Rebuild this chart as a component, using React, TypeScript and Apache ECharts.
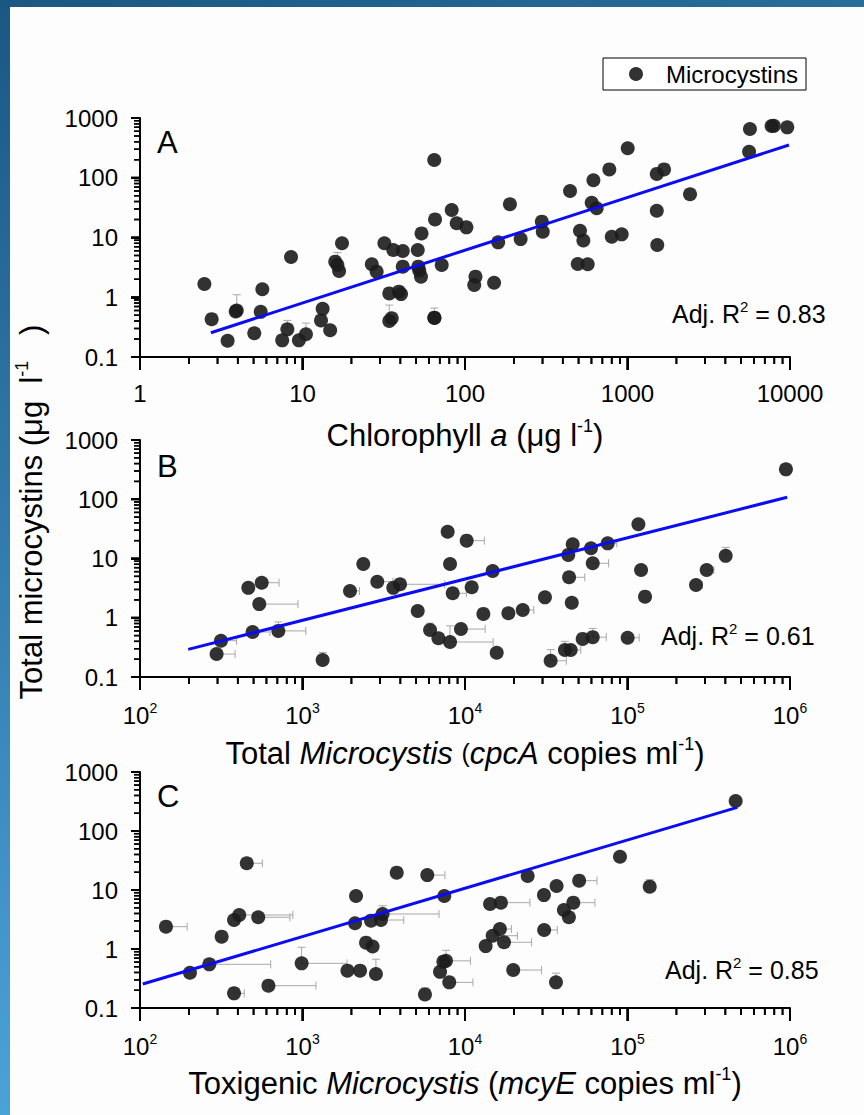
import React, { useEffect, useRef } from 'react';
import * as echarts from 'echarts';

const FONT = '"Liberation Sans", Arial, Helvetica, sans-serif';

// tick labels
const xLabelsA = ['1', '10', '100', '1000', '10000'];
const yLabels = ['0.1', '1', '10', '100', '1000'];
const xExpBC = ['2', '3', '4', '5', '6'];

// Panel A: chlorophyll a vs total microcystins
const pointsA: number[][] = [
  [2.49, 1.67], [2.76, 0.43], [3.46, 0.187], [3.94, 0.6], [3.88, 0.58], [5.05, 0.25], [5.53, 0.57], [5.66, 1.36],
  [7.5, 0.19], [8.07, 0.29], [8.5, 4.72], [9.5, 0.19], [10.5, 0.24], [13, 0.41], [13.3, 0.64], [14.8, 0.28],
  [15.9, 3.94], [16.4, 3.47], [16.8, 2.75], [17.5, 8.0], [26.7, 3.57], [28.6, 2.68], [31.9, 8.0], [34.2, 1.16],
  [35.4, 0.445], [34.2, 0.4], [36.2, 6.18], [39.2, 1.24], [40.4, 1.13], [41.4, 5.94], [41.4, 3.25], [51.2, 6.18],
  [51.6, 3.25], [52.3, 2.79], [53.6, 2.21], [54, 11.7], [64.7, 198], [65.4, 20.1], [64.7, 0.455], [64.9, 0.45],
  [71.9, 3.47], [82.8, 28.8], [88.9, 17.3], [102, 14.8], [116, 2.21], [114, 1.6], [189, 36], [151, 1.75],
  [160, 8.3], [220, 9.4], [297, 18.4], [301, 12.5], [443, 60], [510, 13], [535, 8.9], [494, 3.6],
  [569, 3.57], [617, 91], [602, 38], [646, 30.8], [773, 138], [800, 10.3], [921, 11.3], [1003, 311],
  [1514, 116], [1678, 138], [1514, 28], [1525, 7.5], [2425, 53], [5670, 655], [5600, 273], [7700, 735],
  [7950, 740], [9620, 698],
];
const yErrA: number[][] = [
  [3.94, 0.6, 1.1], [8.07, 0.29, 0.41], [10.5, 0.24, 0.37], [16.4, 3.94, 5.6], [34.2, 0.4, 0.74], [64.7, 0.455, 0.66],
];
const fitA: number[][] = [[2.73, 0.255], [9860, 353]];

// Panel B: total Microcystis (cpcA)
const pointsB: number[][] = [
  [296, 0.244], [315, 0.41], [464, 3.2], [561, 3.9], [542, 1.7], [493, 0.575], [710, 0.6], [1330, 0.194],
  [1960, 2.83], [2366, 8.07], [2885, 4.06], [3620, 3.2], [3981, 3.67], [5117, 1.3], [6095, 0.62], [6860, 0.45],
  [8090, 0.39], [7820, 28.3], [8090, 8.07], [8400, 2.59], [9440, 0.645], [10240, 20], [10990, 3.27], [12970, 1.16],
  [15670, 0.257], [14800, 6.15], [18490, 1.19], [22660, 1.35], [31050, 2.21], [33650, 0.188], [41180, 0.286], [44700, 0.286],
  [43700, 4.82], [45400, 1.79], [43200, 11.5], [46000, 17.4], [52970, 0.44], [61100, 0.47], [59600, 14.9], [61100, 8.3],
  [75500, 18], [100200, 0.46], [116700, 37.8], [121200, 6.4], [128200, 2.27], [264000, 3.57], [307000, 6.4], [402000, 11.1],
  [944000, 320],
];
const xErrB: number[][] = [
  [296, 0.244, 385], [315, 0.41, 393], [561, 3.9, 717], [542, 1.7, 938], [493, 0.575, 630], [710, 0.6, 1048],
  [1960, 2.83, 2243], [2885, 4.06, 3600], [3981, 3.67, 7500], [8090, 0.39, 14900], [9440, 0.645, 13300],
  [10240, 20, 13150], [8400, 2.59, 10200], [22660, 1.35, 26500], [33650, 0.188, 42000], [44700, 0.286, 51600],
  [43700, 4.82, 54600], [61100, 0.47, 74000], [61100, 8.3, 76500], [75500, 18, 86000], [100200, 0.46, 118000],
  [264000, 3.57, 288000], [307000, 6.4, 340000],
];
const yErrB: number[][] = [
  [710, 0.6, 0.85], [1330, 0.194, 0.26], [6095, 0.62, 0.81], [8090, 0.39, 0.73], [33650, 0.188, 0.29],
  [41180, 0.286, 0.4], [61100, 0.47, 0.66], [402000, 11.1, 15.4],
];
const fitB: number[][] = [[198, 0.293], [961000, 108]];

// Panel C: toxigenic Microcystis (mcyE)
const pointsC: number[][] = [
  [144.5, 2.39], [203, 0.396], [267, 0.55], [318, 1.62], [379, 3.1], [408, 3.77], [534, 3.45], [379, 0.177],
  [454, 28.4], [617, 0.239], [988, 0.571], [1890, 0.43], [2260, 0.43], [2135, 7.9], [2105, 2.73], [2460, 1.28],
  [2700, 1.1], [2640, 3.02], [2830, 0.377], [3040, 3.1], [3110, 3.92], [3800, 19.7], [5860, 17.9], [5670, 0.17],
  [7460, 7.9], [7360, 0.61], [7640, 0.63], [7020, 0.41], [8000, 0.272], [24300, 17.3], [14260, 5.8], [16640, 6.1],
  [16400, 2.18], [14800, 1.68], [13400, 1.12], [17380, 1.3], [19800, 0.44], [30600, 8.2], [36600, 11.7], [30700, 2.1],
  [36300, 0.272], [40600, 4.58], [43600, 3.45], [46400, 6.1], [50400, 14.4], [89900, 36.6], [137000, 11.4], [463000, 322],
];
const xErrC: number[][] = [
  [144.5, 2.39, 195], [267, 0.55, 637], [408, 3.77, 872], [534, 3.45, 837], [379, 0.177, 438], [454, 28.4, 566],
  [617, 0.239, 1210], [988, 0.571, 1880], [3110, 3.92, 6920], [3040, 3.1, 4200], [5860, 17.9, 7530], [8000, 0.272, 11200],
  [7640, 0.63, 10800], [16640, 6.1, 25100], [19800, 0.44, 29600], [16400, 2.18, 19300], [14800, 1.68, 21000],
  [17380, 1.3, 25700], [30700, 2.1, 37000], [50400, 14.4, 64900], [46400, 6.1, 63000],
];
const yErrC: number[][] = [
  [379, 0.177, 0.22], [988, 0.571, 1.07], [2830, 0.377, 0.67], [5670, 0.17, 0.22], [7640, 0.63, 0.95],
  [36300, 0.272, 0.39], [137000, 11.4, 15], [3110, 3.92, 5.4],
];
const fitC: number[][] = [[104, 0.255], [474000, 252]];

const r2Labels = ['0.83', '0.61', '0.85'];
const panelLetters = ['A', 'B', 'C'];

function minorValues(minExp: number, maxExp: number): number[] {
  const out: number[] = [];
  for (let e = minExp; e < maxExp; e++) for (let m = 2; m <= 9; m++) out.push(m * Math.pow(10, e));
  return out;
}
function majorValues(minExp: number, maxExp: number): number[] {
  const out: number[] = [];
  for (let e = minExp; e <= maxExp; e++) out.push(Math.pow(10, e));
  return out;
}

const titleRich = {
  t: { fontSize: 31, fontFamily: FONT, color: '#000', lineHeight: 36 },
  p: { fontSize: 25, fontFamily: FONT, color: '#000', lineHeight: 36 },
  i: { fontSize: 31, fontFamily: FONT, color: '#000', fontStyle: 'italic', lineHeight: 36 },
  s: { fontSize: 18, fontFamily: FONT, color: '#000', verticalAlign: 'top', lineHeight: 14 },
};
const tickRich = {
  b: { fontSize: 24, fontFamily: FONT, color: '#000', lineHeight: 28 },
  s: { fontSize: 14, fontFamily: FONT, color: '#000', verticalAlign: 'top', lineHeight: 10 },
};

export default function App() {
  const ref = useRef<HTMLDivElement>(null);
  useEffect(() => {
    if (!ref.current) return;
    const chart = echarts.init(ref.current, null, { renderer: 'svg' });

    const grids = [
      { left: 140, top: 118, width: 650, height: 239 },
      { left: 140, top: 440, width: 650, height: 237 },
      { left: 140, top: 772, width: 650, height: 236 },
    ];
    const xRanges = [[1, 10000], [100, 1e6], [100, 1e6]];
    const xExp = [[0, 4], [2, 6], [2, 6]];
    const xNames = [
      '{t|Chlorophyll }{i|a}{t| (μg l}{s|-1}{t|)}',
      '{t|Total }{i|Microcystis}{t| }{p|(}{i|cpcA}{t| copies ml}{s|-1}{t|)}',
      '{t|Toxigenic }{i|Microcystis}{t| (}{i|mcyE}{t| copies ml}{s|-1}{t|)}',
    ];
    const nameGaps = [60, 58, 57];
    const pts = [pointsA, pointsB, pointsC];
    const fits = [fitA, fitB, fitC];
    const xErrs = [[], xErrB, xErrC];
    const yErrs = [yErrA, yErrB, yErrC];

    const xAxis = grids.map((_, i) => ({
      type: 'log', logBase: 10, gridIndex: i, min: xRanges[i][0], max: xRanges[i][1],
      axisLine: { show: true, lineStyle: { color: '#000', width: 2 } },
      axisTick: { show: true, inside: false, length: 13, lineStyle: { color: '#000', width: 2 } },
      splitLine: { show: false },
      axisLabel: {
        margin: 24, color: '#000', fontSize: 24, fontFamily: FONT,
        formatter: (v: number) => {
          const e = Math.round(Math.log10(v));
          if (i === 0) return xLabelsA[e] ?? '';
          return '{b|10}{s|' + (xExpBC[e - 2] ?? '') + '}';
        },
        rich: tickRich,
      },
      name: xNames[i], nameLocation: 'middle', nameGap: nameGaps[i],
      nameTextStyle: { rich: titleRich, fontFamily: FONT, fontSize: 31, color: '#000' },
    }));
    const yAxis = grids.map((_, i) => ({
      type: 'log', logBase: 10, gridIndex: i, min: 0.1, max: 1000,
      axisLine: { show: true, lineStyle: { color: '#000', width: 2 } },
      axisTick: { show: true, inside: false, length: 9, lineStyle: { color: '#000', width: 2 } },
      splitLine: { show: false },
      axisLabel: {
        margin: 22, color: '#000', fontSize: 24, fontFamily: FONT,
        formatter: (v: number) => yLabels[Math.round(Math.log10(v)) + 1] ?? '',
      },
    }));

    const series: any[] = [];
    grids.forEach((_, i) => {
      // minor + major ticks drawn through each grid's own scales (custom series)
      const xTicks = minorValues(xExp[i][0], xExp[i][1]).map((v) => [v, 0.1, 7, 1.8])
        .concat(majorValues(xExp[i][0], xExp[i][1]).map((v) => [v, 0.1, 13, 2]));
      const yTicks = minorValues(-1, 3).map((v) => [xRanges[i][0], v, 6, 1.5])
        .concat(majorValues(-1, 3).map((v) => [xRanges[i][0], v, 9, 2]));
      series.push({
        type: 'custom', xAxisIndex: i, yAxisIndex: i, silent: true, clip: false, z: 6,
        data: xTicks,
        renderItem: (_p: any, api: any) => {
          const p = api.coord([api.value(0), api.value(1)]);
          return { type: 'line', shape: { x1: p[0], y1: p[1], x2: p[0], y2: p[1] + api.value(2) }, style: { stroke: '#000', lineWidth: api.value(3) } };
        },
      });
      series.push({
        type: 'custom', xAxisIndex: i, yAxisIndex: i, silent: true, clip: false, z: 6,
        data: yTicks,
        renderItem: (_p: any, api: any) => {
          const p = api.coord([api.value(0), api.value(1)]);
          return { type: 'line', shape: { x1: p[0] - api.value(2), y1: p[1], x2: p[0], y2: p[1] }, style: { stroke: '#000', lineWidth: api.value(3) } };
        },
      });
      series.push({
        type: 'custom', xAxisIndex: i, yAxisIndex: i, silent: true, clip: false, z: 2,
        data: xErrs[i],
        renderItem: (_p: any, api: any) => {
          const p = api.coord([api.value(0), api.value(1)]);
          const h = api.coord([api.value(2), api.value(1)]);
          const st = { stroke: '#a8a8a8', lineWidth: 1 };
          return {
            type: 'group', children: [
              { type: 'line', shape: { x1: p[0], y1: p[1], x2: h[0], y2: h[1] }, style: st },
              { type: 'line', shape: { x1: h[0], y1: h[1] - 4, x2: h[0], y2: h[1] + 4 }, style: st },
            ],
          };
        },
      });
      series.push({
        type: 'custom', xAxisIndex: i, yAxisIndex: i, silent: true, clip: false, z: 2,
        data: yErrs[i],
        renderItem: (_p: any, api: any) => {
          const p = api.coord([api.value(0), api.value(1)]);
          const h = api.coord([api.value(0), api.value(2)]);
          const st = { stroke: '#a8a8a8', lineWidth: 1 };
          return {
            type: 'group', children: [
              { type: 'line', shape: { x1: p[0], y1: p[1], x2: h[0], y2: h[1] }, style: st },
              { type: 'line', shape: { x1: h[0] - 4, y1: h[1], x2: h[0] + 4, y2: h[1] }, style: st },
            ],
          };
        },
      });
      series.push({
        name: 'Microcystins', type: 'scatter', xAxisIndex: i, yAxisIndex: i, z: 3,
        symbol: 'circle', symbolSize: 14, data: pts[i],
        itemStyle: { color: 'rgba(28,28,28,0.9)', opacity: 1 },
      });
      series.push({
        type: 'line', xAxisIndex: i, yAxisIndex: i, z: 4, data: fits[i],
        showSymbol: false, symbol: 'none', silent: true,
        lineStyle: { color: '#0c0cf2', width: 3 },
      });
    });

    const letterY = [142, 466, 796];
    const r2Pos = [[672, 314], [661, 636], [665, 970]];
    const graphic: any[] = [
      {
        type: 'rect', silent: true, z: -10,
        shape: { x: 0, y: 0, width: 864, height: 7 },
        style: { fill: { type: 'linear', x: 0, y: 0, x2: 1, y2: 0, colorStops: [{ offset: 0, color: '#1b5783' }, { offset: 1, color: '#2a6e9b' }] } },
      },
      {
        type: 'rect', silent: true, z: -10,
        shape: { x: 0, y: 0, width: 10, height: 1115 },
        style: { fill: { type: 'linear', x: 0, y: 0, x2: 0, y2: 1, colorStops: [{ offset: 0, color: '#1b5783' }, { offset: 1, color: '#4ba2d9' }] } },
      },
      {
        type: 'text', x: 31, y: 512, rotation: Math.PI / 2, silent: true,
        style: {
          text: '{t|Total microcystins (μg  l}{s|-1}{t|   )}',
          rich: titleRich, align: 'center', verticalAlign: 'middle', fontFamily: FONT, fontSize: 31, fill: '#000',
        },
      },
    ];
    panelLetters.forEach((l, i) => {
      graphic.push({
        type: 'text', x: 157, y: letterY[i], silent: true,
        style: { text: l, fontSize: 31, fontFamily: FONT, fill: '#000', align: 'left', verticalAlign: 'middle' },
      });
      graphic.push({
        type: 'text', x: r2Pos[i][0], y: r2Pos[i][1], silent: true,
        style: {
          text: '{t|Adj. R}{s|2}{t| = ' + r2Labels[i] + '}',
          rich: {
            t: { fontSize: 25, fontFamily: FONT, color: '#000', lineHeight: 30 },
            s: { fontSize: 15, fontFamily: FONT, color: '#000', verticalAlign: 'top', lineHeight: 12 },
          },
          align: 'left', verticalAlign: 'middle', fontFamily: FONT,
        },
      });
    });

    const option: any = {
      animation: false,
      backgroundColor: '#fdfdfd',
      grid: grids.map((g) => ({ ...g, containLabel: false, outerBoundsMode: 'none' })),
      xAxis, yAxis, series, graphic,
      legend: {
        show: true, data: [{ name: 'Microcystins', icon: 'circle' }],
        left: 603, top: 58, orient: 'horizontal',
        backgroundColor: '#ffffff', borderColor: '#000', borderWidth: 1, borderRadius: 0,
        padding: [4, 8, 4, 26], itemWidth: 14, itemHeight: 14, selectedMode: false,
        textStyle: { fontSize: 24, fontFamily: FONT, color: '#000', padding: [0, 0, 0, 18] },
      },
    };
    chart.setOption(option);

    // same ticks again as graphic lines, positioned by each cartesian's convertToPixel
    const tickLines: any[] = [];
    const mk = (x1: number, y1: number, x2: number, y2: number, w: number) => ({
      type: 'line', silent: true, z: 100,
      shape: { x1, y1, x2, y2 }, style: { stroke: '#000', lineWidth: w },
    });
    grids.forEach((_, i) => {
      const finder: any = { xAxisIndex: i, yAxisIndex: i };
      const yMin = 0.1;
      const xMin = xRanges[i][0];
      const px = (v: number[]) => chart.convertToPixel(finder, v) as unknown as number[];
      majorValues(xExp[i][0], xExp[i][1]).forEach((v) => {
        const p = px([v, yMin]);
        if (p) tickLines.push(mk(p[0], p[1], p[0], p[1] + 13, 2));
      });
      minorValues(xExp[i][0], xExp[i][1]).forEach((v) => {
        const p = px([v, yMin]);
        if (p) tickLines.push(mk(p[0], p[1], p[0], p[1] + 7, 1.8));
      });
      majorValues(-1, 3).forEach((v) => {
        const p = px([xMin, v]);
        if (p) tickLines.push(mk(p[0] - 9, p[1], p[0], p[1], 2));
      });
      minorValues(-1, 3).forEach((v) => {
        const p = px([xMin, v]);
        if (p) tickLines.push(mk(p[0] - 6, p[1], p[0], p[1], 1.5));
      });
    });
    chart.setOption({ graphic: graphic.concat(tickLines) });

    return () => chart.dispose();
  }, []);
  return <div ref={ref} style={{ position: 'absolute', left: 0, top: 0, width: 864, height: 1115 }} />;
}
